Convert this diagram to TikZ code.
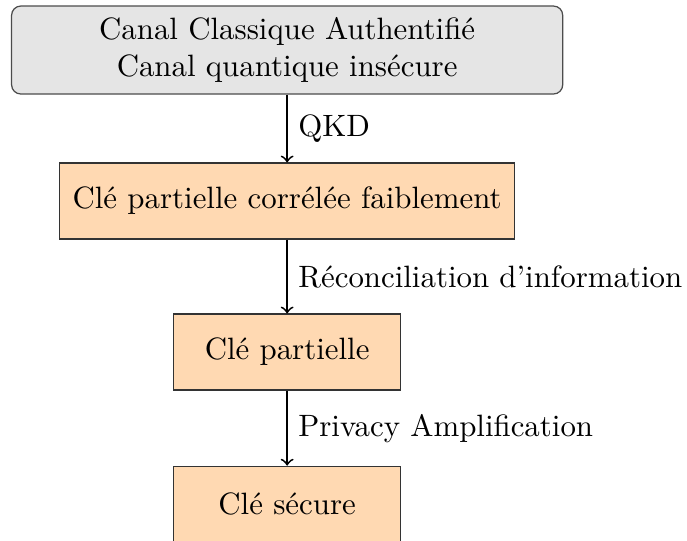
\documentclass[tikz,border=0pt]{standalone}
\usepackage{fontspec}
\tikzset{
  canal/.style={draw=black!70, fill=gray!20, rounded corners=3pt, align=center,
    minimum width=178.5pt, minimum height=28.5pt},
  cle/.style={draw=black!80, fill=orange!30, minimum height=24.6pt},
  fleche/.style={->, semithick}
}
\begin{document}
\begin{tikzpicture}[x=1pt, y=1pt]
\useasboundingbox (0,0) rectangle (222.5,-174.9);
% les boites
\node[canal] (canal) at (93,-16.2) {Canal Classique Authentifié\\Canal quantique insécure};
\node[cle, minimum width=147.4pt] (faible) at (93,-65.1) {Clé partielle corrélée faiblement};
\node[cle, minimum width=73.5pt] (partielle) at (93,-114.0) {Clé partielle};
\node[cle, minimum width=73.5pt] (secure) at (93,-163.3) {Clé sécure};
% les fleches
\draw[fleche] (canal) -- node[right] {QKD} (faible);
\draw[fleche] (faible) -- node[right] {Réconciliation d’information} (partielle);
\draw[fleche] (partielle) -- node[right] {Privacy Amplification} (secure);
\end{tikzpicture}
\end{document}
